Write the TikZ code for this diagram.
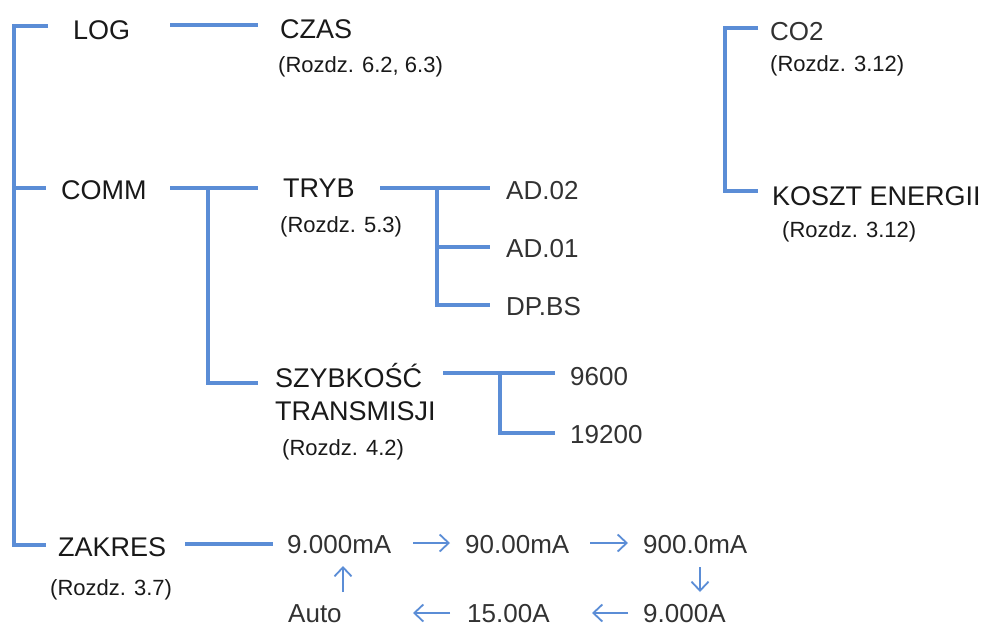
\documentclass[tikz,border=0pt]{standalone}
\usepackage{fontspec}
\setmainfont{Liberation Sans}
\usetikzlibrary{arrows.meta}
\definecolor{lnblue}{RGB}{91,141,214}
\definecolor{txt}{RGB}{25,25,25}
\definecolor{num}{RGB}{50,50,50}
\begin{document}
\begin{tikzpicture}[x=1pt,y=-1pt,
  br/.style={draw=lnblue,line width=4pt},
  ar/.style={draw=lnblue,line width=1.8pt,-{Straight Barb[length=9pt,width=17pt,line width=1.8pt]}},
  big/.style={inner sep=0pt,anchor=base west,text=txt,font=\fontsize{27}{32}\selectfont},
  refl/.style={inner sep=0pt,anchor=base west,text=txt,font=\fontsize{22}{26}\selectfont},
  val/.style={inner sep=0pt,anchor=base west,text=num,font=\fontsize{26}{30}\selectfont}]
\useasboundingbox (0,0) rectangle (986,627);
% text nodes
\node[big] (log) at (73,39) {LOG};
\node[big] (czas) at (280,38) {CZAS};
\node[refl] (r1) at (278,72) {(Rozdz. 6.2, 6.3)};
\node[big] (comm) at (61,199) {COMM};
\node[big] (tryb) at (283,197) {TRYB};
\node[refl] (r2) at (280,232) {(Rozdz. 5.3)};
\node[val] (ad02) at (506,199) {AD.02};
\node[val] (ad01) at (506,257) {AD.01};
\node[val] (dpbs) at (506,315) {DP.BS};
\node[big] (szyb) at (275,387) {SZYBKOŚĆ};
\node[big] (trans) at (275,420) {TRANSMISJI};
\node[refl] (r3) at (282,455) {(Rozdz. 4.2)};
\node[val] (b9600) at (570,385) {9600};
\node[val] (b19200) at (570,443) {19200};
\node[val] (co2) at (770,40) {CO2};
\node[refl] (r4) at (770,71) {(Rozdz. 3.12)};
\node[big] (koszt) at (772,205) {KOSZT ENERGII};
\node[refl] (r5) at (782,237) {(Rozdz. 3.12)};
\node[big] (zakres) at (58,556) {ZAKRES};
\node[refl] (r6) at (50,595) {(Rozdz. 3.7)};
\node[val] (z1) at (287,553) {9.000mA};
\node[val] (z2) at (465,553) {90.00mA};
\node[val] (z3) at (643,553) {900.0mA};
\node[val] (z4) at (643,622) {9.000A};
\node[val] (z5) at (467,622) {15.00A};
\node[val] (z6) at (288,622) {Auto};
% junction coordinates
\coordinate (spT) at (14,26);
\coordinate (spTe) at (48,26);
\coordinate (spM) at (14,188);
\coordinate (spMe) at (46,188);
\coordinate (spB) at (14,545);
\coordinate (spBe) at (46,545);
\coordinate (lcA) at (170,25);
\coordinate (lcB) at (258,25);
\coordinate (ctA) at (170,188);
\coordinate (ctJ) at (208,188);
\coordinate (ctB) at (258,188);
\coordinate (csJ) at (208,383);
\coordinate (csB) at (258,383);
\coordinate (taA) at (380,188);
\coordinate (taJ) at (437,188);
\coordinate (taB) at (490,188);
\coordinate (taJ2) at (437,247);
\coordinate (taB2) at (490,247);
\coordinate (taJ3) at (437,305);
\coordinate (taB3) at (490,305);
\coordinate (sbA) at (443,373);
\coordinate (sbJ) at (500,373);
\coordinate (sbB) at (555,373);
\coordinate (sbJ2) at (500,433);
\coordinate (sbB2) at (555,433);
\coordinate (coT) at (758,28);
\coordinate (coTJ) at (725,28);
\coordinate (coBJ) at (725,191);
\coordinate (coB) at (758,191);
\coordinate (zkA) at (185,544);
\coordinate (zkB) at (273,544);
% tree connectors
\draw[br] (spTe) -- (spT) -- (spB) -- (spBe);
\draw[br] (spM) -- (spMe);
\draw[br] (lcA) -- (lcB);
\draw[br] (ctA) -- (ctB);
\draw[br] (ctJ) -- (csJ) -- (csB);
\draw[br] (taA) -- (taB);
\draw[br] (taJ) -- (taJ3) -- (taB3);
\draw[br] (taJ2) -- (taB2);
\draw[br] (sbA) -- (sbB);
\draw[br] (sbJ) -- (sbJ2) -- (sbB2);
\draw[br] (coT) -- (coTJ) -- (coBJ) -- (coB);
\draw[br] (zkA) -- (zkB);
% cycle arrows
\coordinate (a1s) at (413,543);
\coordinate (a1e) at (450,543);
\coordinate (a2s) at (590,543);
\coordinate (a2e) at (628,543);
\coordinate (a3s) at (700,567);
\coordinate (a3e) at (700,592);
\coordinate (a4s) at (628,613);
\coordinate (a4e) at (592,613);
\coordinate (a5s) at (450,613);
\coordinate (a5e) at (413,613);
\coordinate (a6s) at (343,592);
\coordinate (a6e) at (343,566);
\draw[ar] (a1s) -- (a1e);
\draw[ar] (a2s) -- (a2e);
\draw[ar] (a3s) -- (a3e);
\draw[ar] (a4s) -- (a4e);
\draw[ar] (a5s) -- (a5e);
\draw[ar] (a6s) -- (a6e);
\end{tikzpicture}
\end{document}
